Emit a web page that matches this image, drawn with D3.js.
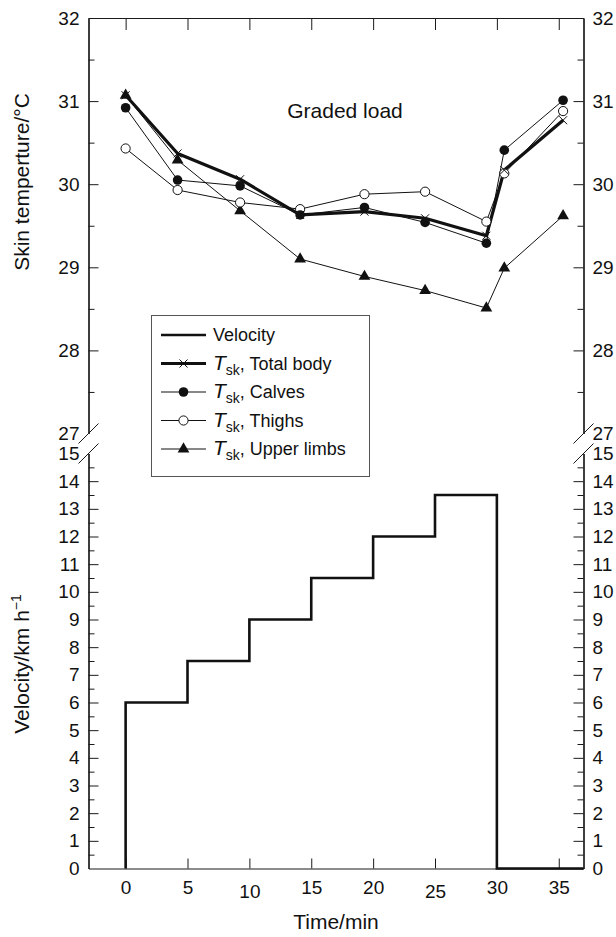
<!DOCTYPE html>
<html>
<head>
<meta charset="utf-8">
<script src="https://cdn.jsdelivr.net/npm/d3@7"></script>
<style>
  body { margin: 0; background: #fff; }
  svg { display: block; font-family: "Liberation Sans", Arial, Helvetica, sans-serif; }
</style>
</head>
<body>
<div id="chart"></div>
<script>
// time of each skin temperature reading (min)
const times = [0, 4.2, 9.25, 14.1, 19.3, 24.2, 29.15, 30.6, 35.35];

// skin temperature series (°C)
const totalBody = [31.07, 30.37, 30.06, 29.63, 29.67, 29.59, 29.38, 30.17, 30.77];
const calves = [30.92, 30.05, 29.98, 29.63, 29.72, 29.54, 29.29, 30.41, 31.01];
const thighs = [30.43, 29.93, 29.78, 29.70, 29.88, 29.91, 29.55, 30.13, 30.88];
const upperLimbs = [31.07, 30.29, 29.68, 29.10, 28.89, 28.72, 28.51, 28.99, 29.62];

// treadmill velocity (km/h), step after each time
const velTimes = [0, 0, 5, 10, 15, 20, 25, 30, 37];
const velValues = [0, 6, 7.5, 9, 10.5, 12, 13.5, 0, 0];

// ticks
const timeTicks = [0, 5, 10, 15, 20, 25, 30, 35];
const tempTicks = [27, 28, 29, 30, 31, 32];
const tempMinor = [27.5, 28.5, 29.5, 30.5, 31.5];
const velTicks = d3.range(0, 16);
const velMinor = d3.range(0.5, 15, 1);

const width = 616, height = 937;
const left = 88.5, right = 583.5;
const topY = 18, breakTop = 433.5, breakBottom = 453.5, bottomY = 868.5;

const svg = d3.select("#chart").append("svg")
  .attr("width", width).attr("height", height);

const x = d3.scaleLinear().domain([-3, 37]).range([left, right]);
const yT = d3.scaleLinear().domain([27, 32]).range([breakTop, topY]);
const yV = d3.scaleLinear().domain([0, 15]).range([bottomY, breakBottom]);

const ink = "#1a1a1a";
const fmt = d3.format("d");

function styleAxis(g, size) {
  g.selectAll("path.domain").attr("stroke", ink).attr("stroke-width", 1.2);
  g.selectAll(".tick line").attr("stroke", ink).attr("stroke-width", 1);
  g.selectAll("text").attr("font-size", size).attr("fill", "#111")
    .attr("font-family", "Liberation Sans, Arial, sans-serif");
}

// y axes for both panels, both sides
[[yT, tempTicks, tempMinor], [yV, velTicks, velMinor]].forEach(([sc, major, minor]) => {
  [[d3.axisLeft, left], [d3.axisRight, right]].forEach(([axisFn, pos]) => {
    svg.append("g").attr("transform", `translate(${pos},0)`)
      .call(axisFn(sc).tickValues(minor).tickSize(-6).tickSizeOuter(0).tickFormat(""))
      .call(g => styleAxis(g, 19));
    const g = svg.append("g").attr("transform", `translate(${pos},0)`)
      .call(axisFn(sc).tickValues(major).tickFormat(fmt).tickSize(-10).tickSizeOuter(0).tickPadding(9))
      .call(g => styleAxis(g, 19));
    // no tick lines at the break
    g.selectAll(".tick").filter(d => d === 27 || d === 15 || d === 0).select("line").remove();
  });
});

// top frame ticks
svg.append("g").attr("transform", `translate(0,${topY})`)
  .call(d3.axisTop(x).tickValues(timeTicks).tickSize(-12).tickSizeOuter(0).tickFormat(""))
  .call(g => styleAxis(g, 19));

// bottom time axis
const xAxis = svg.append("g").attr("transform", `translate(0,${bottomY})`)
  .call(d3.axisBottom(x).tickValues(timeTicks).tickFormat(fmt).tickSize(-10).tickSizeOuter(0).tickPadding(12))
  .call(g => styleAxis(g, 19));
xAxis.selectAll(".tick text").filter(d => d === 10 || d === 25).attr("y", 16);

// axis break marks
[left, right].forEach(px => {
  [breakTop, breakBottom].forEach(py => {
    svg.append("line")
      .attr("x1", px - 10).attr("y1", py + 10)
      .attr("x2", px + 10).attr("y2", py - 10)
      .attr("stroke", ink).attr("stroke-width", 1);
  });
});

// velocity step line
const velPts = velTimes.map((t, i) => [t, velValues[i]]);
svg.append("path")
  .datum(velPts)
  .attr("fill", "none").attr("stroke", "#111").attr("stroke-width", 2.6)
  .attr("d", d3.line().x(d => x(d[0])).y(d => yV(d[1])).curve(d3.curveStepAfter));

// temperature series
const series = [
  { name: "Upper limbs", values: upperLimbs, width: 1, marker: "triangle" },
  { name: "Thighs", values: thighs, width: 1, marker: "open" },
  { name: "Calves", values: calves, width: 1, marker: "filled" },
  { name: "Total body", values: totalBody, width: 3.2, marker: "cross" }
];

const line = d3.line().x(d => x(d[0])).y(d => yT(d[1]));

function drawMarker(g, type, cx, cy) {
  if (type === "filled") {
    g.append("circle").attr("cx", cx).attr("cy", cy).attr("r", 4.8).attr("fill", "#111");
  } else if (type === "open") {
    g.append("circle").attr("cx", cx).attr("cy", cy).attr("r", 4.6)
      .attr("fill", "#fff").attr("stroke", "#111").attr("stroke-width", 1);
  } else if (type === "triangle") {
    g.append("path").attr("transform", `translate(${cx},${cy})`)
      .attr("d", d3.symbol(d3.symbolTriangle, 60)()).attr("fill", "#111");
  } else if (type === "cross") {
    g.append("path").attr("transform", `translate(${cx},${cy})`)
      .attr("d", "M-4,-4L4,4M-4,4L4,-4").attr("stroke", "#111").attr("stroke-width", 1);
  }
}

series.forEach(s => {
  const pts = times.map((t, i) => [t, s.values[i]]);
  svg.append("path").datum(pts)
    .attr("fill", "none").attr("stroke", "#111").attr("stroke-width", s.width)
    .attr("stroke-linejoin", "round")
    .attr("d", line);
});
series.forEach(s => {
  const g = svg.append("g");
  times.forEach((t, i) => drawMarker(g, s.marker, x(t), yT(s.values[i])));
});

// panel label
svg.append("text").attr("x", 345).attr("y", 118).attr("text-anchor", "middle")
  .attr("font-size", 21).attr("fill", "#111").text("Graded load");

// axis titles
svg.append("text")
  .attr("transform", "translate(29,182) rotate(-90)")
  .attr("text-anchor", "middle").attr("font-size", 21).attr("fill", "#111")
  .text("Skin temperture/°C");

const vt = svg.append("text")
  .attr("transform", "translate(29,664) rotate(-90)")
  .attr("text-anchor", "middle").attr("font-size", 21).attr("fill", "#111");
vt.append("tspan").text("Velocity/km h");
vt.append("tspan").attr("font-size", 14).attr("dy", -8).text("−1");

svg.append("text").attr("x", 336).attr("y", 929).attr("text-anchor", "middle")
  .attr("font-size", 21).attr("fill", "#111").text("Time/min");

// legend
const lg = svg.append("g");
lg.append("rect").attr("x", 151.5).attr("y", 315.5).attr("width", 218).attr("height", 161)
  .attr("fill", "#fff").attr("stroke", "#555").attr("stroke-width", 1);

const legendItems = [
  { label: "Velocity", width: 2.6, marker: null, tsk: false },
  { label: "Total body", width: 3.2, marker: "cross", tsk: true },
  { label: "Calves", width: 1, marker: "filled", tsk: true },
  { label: "Thighs", width: 1, marker: "open", tsk: true },
  { label: "Upper limbs", width: 1, marker: "triangle", tsk: true }
];

legendItems.forEach((d, i) => {
  const cy = 335 + i * 28.5;
  lg.append("line").attr("x1", 161).attr("x2", 206).attr("y1", cy).attr("y2", cy)
    .attr("stroke", "#111").attr("stroke-width", d.width);
  if (d.marker) drawMarker(lg, d.marker, 183.5, cy);
  const t = lg.append("text").attr("x", 213).attr("y", cy + 6)
    .attr("font-size", 18).attr("fill", "#111");
  if (d.tsk) {
    t.append("tspan").attr("font-style", "italic").attr("font-size", 21).text("T");
    t.append("tspan").attr("font-size", 14).attr("dy", 5).text("sk");
    t.append("tspan").attr("dy", -5).text(", " + d.label);
  } else {
    t.text(d.label);
  }
});
</script>
</body>
</html>
